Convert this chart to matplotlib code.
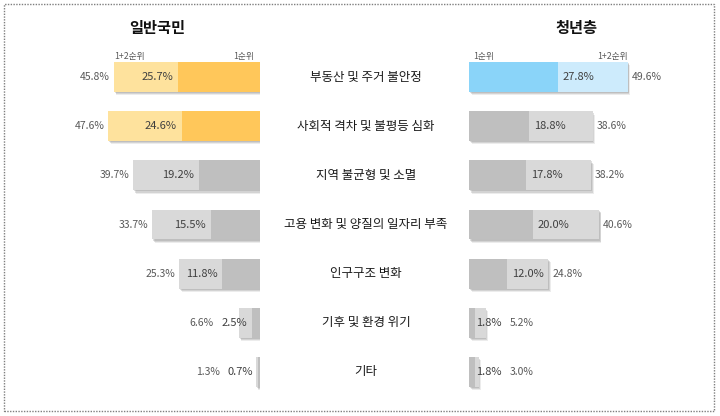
import matplotlib
matplotlib.use("Agg")
import matplotlib.pyplot as plt
from matplotlib.patches import Rectangle
import matplotlib.patheffects as pe

plt.rcParams['font.family'] = ['Noto Sans CJK KR', 'DejaVu Sans']

categories = ["부동산 및 주거 불안정", "사회적 격차 및 불평등 심화", "지역 불균형 및 소멸",
              "고용 변화 및 양질의 일자리 부족", "인구구조 변화", "기후 및 환경 위기", "기타"]
general_first = [25.7, 24.6, 19.2, 15.5, 11.8, 2.5, 0.7]
general_total = [45.8, 47.6, 39.7, 33.7, 25.3, 6.6, 1.3]
youth_first = [27.8, 18.8, 17.8, 20.0, 12.0, 1.8, 1.8]
youth_total = [49.6, 38.6, 38.2, 40.6, 24.8, 5.2, 3.0]
title_left = "일반국민"
title_right = "청년층"
hdr_total = "1+2순위"
hdr_first = "1순위"

W, H = 720, 416
fig = plt.figure(figsize=(W / 100, H / 100), dpi=100)

top_px, bot_px = 47.5, 401.5
ax_b = 1 - bot_px / H
ax_h = (bot_px - top_px) / H
axL = fig.add_axes([20 / W, ax_b, 240 / W, ax_h])
axR = fig.add_axes([469 / W, ax_b, 240 / W, ax_h])
axL.set_xlim(240 / 3.19, 0)
axR.set_xlim(0, 240 / 3.2)
for ax in (axL, axR):
    ax.set_ylim(6.6, -0.6)
    ax.axis('off')

YEL_D, YEL_L = '#FFC75A', '#FEE29D'
BLU_D, BLU_L = '#8AD4F9', '#CDEBFC'
GRY_D, GRY_L = '#BFBFBF', '#D9D9D9'
bh = 0.61
shadow = [pe.SimplePatchShadow(offset=(1.8, -2.4), shadow_rgbFace='#9a9a9a', alpha=0.18),
          pe.SimplePatchShadow(offset=(1.2, -1.6), shadow_rgbFace='#8a8a8a', alpha=0.25),
          pe.SimplePatchShadow(offset=(0.6, -0.8), shadow_rgbFace='#808080', alpha=0.25),
          pe.Normal()]

n = len(categories)
for i in range(n):
    # left panel
    if i < 2:
        dc, lc = YEL_D, YEL_L
    else:
        dc, lc = GRY_D, GRY_L
    b = axL.barh(i, general_total[i], height=bh, color=lc, linewidth=0)
    b[0].set_path_effects(shadow)
    axL.barh(i, general_first[i], height=bh, color=dc, linewidth=0)
    axL.text(general_first[i] + 1.5, i, f"{general_first[i]:.1f}%", ha='right', va='center',
             fontsize=8, color='#404040')
    tx = max(general_total[i] + 1.2, general_first[i] + 12)
    axL.text(tx, i, f"{general_total[i]:.1f}%", ha='right', va='center', fontsize=7.5, color='#595959')

    # right panel
    if i < 1:
        dc, lc = BLU_D, BLU_L
    else:
        dc, lc = GRY_D, GRY_L
    b = axR.barh(i, youth_total[i], height=bh, color=lc, linewidth=0)
    b[0].set_path_effects(shadow)
    axR.barh(i, youth_first[i], height=bh, color=dc, linewidth=0)
    axR.text(youth_first[i] + 1.5 if youth_first[i] > 5 else youth_first[i] + 0.3, i,
             f"{youth_first[i]:.1f}%", ha='left', va='center', fontsize=8, color='#404040')
    tx = max(youth_total[i] + 1.2, youth_first[i] + 11)
    axR.text(tx, i, f"{youth_total[i]:.1f}%", ha='left', va='center', fontsize=7.5, color='#595959')

    # category labels
    yc = 1 - (top_px + (i + 0.6) * (bot_px - top_px) / 7.2) / H
    fig.text(366 / W, yc, categories[i], ha='center', va='center', fontsize=9,
             fontweight='medium', color='#1a1a1a')

# headers
hy = -0.41
axL.text(general_total[0], hy, hdr_total, ha='left', va='center', fontsize=6.3, color='#595959')
axL.text(1.8, hy, hdr_first, ha='right', va='center', fontsize=6.3, color='#595959')
axR.text(1.3, hy, hdr_first, ha='left', va='center', fontsize=6.3, color='#595959')
axR.text(youth_total[0], hy, hdr_total, ha='right', va='center', fontsize=6.3, color='#595959')

# titles
fig.text(157 / W, 1 - 28 / H, title_left, ha='center', va='center', fontsize=11, fontweight='bold', color='#111111')
fig.text(576 / W, 1 - 28 / H, title_right, ha='center', va='center', fontsize=11, fontweight='bold', color='#111111')

# dotted border
fig.patches.append(Rectangle((4 / W, 1 - 411 / H), 710 / W, 407 / H, transform=fig.transFigure,
                             fill=False, linestyle=(0, (1, 1)), linewidth=1, edgecolor='#7f7f7f'))

fig.savefig("out.png", dpi=100, facecolor='white')
